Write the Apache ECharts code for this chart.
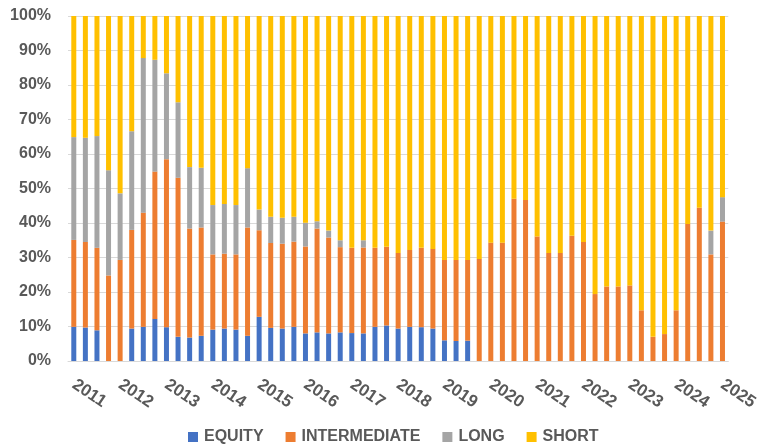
<!DOCTYPE html>
<html>
<head>
<meta charset="utf-8">
<script src="https://cdn.jsdelivr.net/npm/echarts@6/dist/echarts.min.js"></script>
<style>
html,body{margin:0;padding:0;background:#fff;}
#chart{width:761px;height:448px;}
</style>
</head>
<body>
<div id="chart"></div>
<script>
// Quarterly categories 2011Q1 .. 2025Q1
const years = ['2011','2012','2013','2014','2015','2016','2017','2018','2019','2020','2021','2022','2023','2024','2025'];
const quarters = ['Q1','Q2','Q3','Q4'];
const categories = [];
years.forEach(function(y){ quarters.forEach(function(q){ if (categories.length < 57) categories.push(y + q); }); });

const equity = [9.9,9.7,8.9,0,0,9.4,9.9,12.2,9.8,7.0,
  6.8,7.3,9.1,9.4,9.1,7.3,12.8,9.6,9.4,9.9,
  8.0,8.3,8.0,8.3,8.1,8.0,9.9,10.3,9.4,9.9,
  9.8,9.4,6.0,5.8,5.9,0,0,0,0,0,
  0,0,0,0,0,0,0,0,0,0,
  0,0,0,0,0,0,0];
const intermediate = [25.2,24.8,23.9,24.8,29.3,28.6,33.1,42.7,48.7,46.1,
  31.6,31.4,21.8,21.7,21.8,31.4,25.1,24.6,24.6,24.7,
  25.2,30.1,27.8,24.7,24.7,24.9,22.9,22.8,21.9,22.3,
  23.0,23.1,23.3,23.5,23.4,29.6,34.3,34.3,47.0,46.7,
  36.1,31.3,31.3,36.3,34.5,19.4,21.6,21.6,21.9,14.7,
  7.0,7.8,14.7,39.7,44.4,30.9,40.4];
const long = [29.8,30.2,32.4,30.5,19.3,28.6,44.8,32.4,24.9,21.9,
  17.8,17.3,14.3,14.4,14.3,17.2,6.0,7.6,7.5,7.2,
  6.9,2.1,2.0,2.0,0,2.1,0,0,0,0,
  0,0,0,0,0,0,0,0,0,0,
  0,0,0,0,0,0,0,0,0,0,
  0,0,0,0,0,6.9,7.1];
const short = [35.1,35.3,34.8,44.7,51.4,33.4,12.2,12.7,16.6,25.0,
  43.8,44.0,54.8,54.5,54.8,44.1,56.1,58.2,58.5,58.2,
  59.9,59.5,62.2,65.0,67.2,65.0,67.2,66.9,68.7,67.8,
  67.2,67.5,70.7,70.7,70.7,70.4,65.7,65.7,53.0,53.3,
  63.9,68.7,68.7,63.7,65.5,80.6,78.4,78.4,78.1,85.3,
  93.0,92.2,85.3,60.3,55.6,62.2,52.5];

const seriesNames = ['EQUITY','INTERMEDIATE','LONG','SHORT'];
const seriesData = [equity, intermediate, long, short];
const colors = ['#4472C4','#ED7D31','#A5A5A5','#FFC000'];

const chart = echarts.init(document.getElementById('chart'), null, {renderer:'canvas'});
const textColor = '#595959';
const fontFam = '"Liberation Sans", Arial, sans-serif';

chart.setOption({
  animation: false,
  color: colors,
  grid: {left: 68, right: 25, top: 16, bottom: 87, containLabel: false},
  legend: {
    data: seriesNames,
    top: 424,
    left: 183,
    icon: 'rect',
    itemWidth: 10,
    itemHeight: 10,
    itemGap: 22,
    textStyle: {color: textColor, fontSize: 16, fontWeight: 'bold', fontFamily: fontFam, padding:[0,0,0,1]}
  },
  xAxis: {
    type: 'category',
    data: categories,
    boundaryGap: true,
    axisLine: {show: true, lineStyle: {color: '#D9D9D9', width: 1}},
    axisTick: {show: false},
    axisLabel: {
      interval: 3,
      rotate: -34,
      margin: 22,
      color: textColor,
      fontSize: 17,
      fontWeight: 'bold',
      fontFamily: fontFam,
      formatter: function(v){ return v.slice(0,4); }
    }
  },
  yAxis: {
    type: 'value',
    min: 0,
    max: 100,
    interval: 10,
    axisLine: {show: false},
    axisTick: {show: false},
    splitLine: {lineStyle: {color: '#D9D9D9', width: 1}},
    axisLabel: {
      formatter: '{value}%',
      margin: 17,
      color: textColor,
      fontSize: 16,
      fontWeight: 'bold',
      fontFamily: fontFam
    }
  },
  series: seriesNames.map(function(name, i){
    return {
      name: name,
      type: 'bar',
      stack: 'total',
      barWidth: 5,
      data: seriesData[i],
      itemStyle: {color: colors[i]}
    };
  })
});
</script>
</body>
</html>
